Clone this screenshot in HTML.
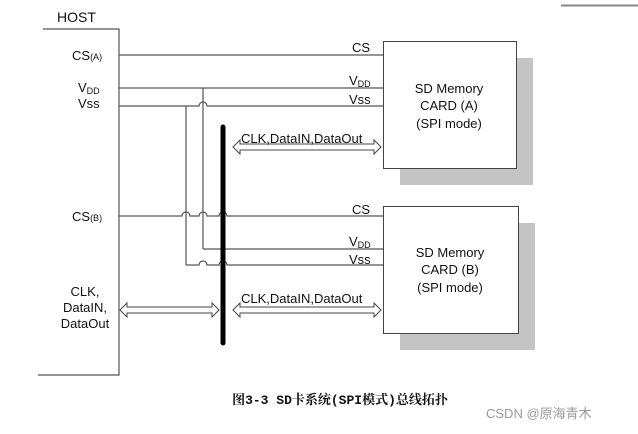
<!DOCTYPE html>
<html><head><meta charset="utf-8"><style>
html,body{margin:0;padding:0;background:#fff;}
svg{display:block;font-family:"Liberation Sans",Arial,sans-serif;}
</style></head><body>
<svg width="638" height="434" viewBox="0 0 638 434" xmlns="http://www.w3.org/2000/svg">
<g fill="none" stroke="#555" stroke-width="1.2">
<line x1="561" y1="5.5" x2="638" y2="5.5" stroke="#888" stroke-width="2"/>
<polyline points="43,29 119,29 119,375 38,375"/>
<!-- CS A -->
<line x1="119" y1="55" x2="383" y2="55"/>
<!-- VDD A -->
<line x1="119" y1="88" x2="383" y2="88"/>
<path d="M119,106 H199 a4,4 0 0 1 8,0 H383"/>
<!-- verticals -->
<line x1="186" y1="106" x2="186" y2="265"/>
<line x1="203" y1="88" x2="203" y2="249"/>
<!-- CS B -->
<path d="M119,216 H182 a4,4 0 0 1 8,0 H199 a4,4 0 0 1 8,0 H219 a4,4 0 0 1 8,0 H383"/>
<line x1="203" y1="249" x2="383" y2="249"/>
<path d="M186,265 H199 a4,4 0 0 1 8,0 H219 a4,4 0 0 1 8,0 H383"/>
</g>
<line x1="223" y1="127" x2="223" y2="343" stroke="#000" stroke-width="5" stroke-linecap="round"/>
<!-- arrows -->
<g fill="#fff" stroke="#444" stroke-width="1">
<path d="M233,147 L240,140 L240,144 L374,144 L374,140 L381,147 L374,154 L374,150 L240,150 L240,154 Z"/>
<path d="M120,310 L127,303 L127,307 L212,307 L212,303 L219,310 L212,317 L212,313 L127,313 L127,317 Z"/>
<path d="M233,310 L240,303 L240,307 L374,307 L374,303 L381,310 L374,317 L374,313 L240,313 L240,317 Z"/>
</g>
<!-- cards -->
<rect x="400" y="58" width="133" height="127" fill="#c4c4c4"/>
<rect x="383.5" y="41.5" width="133" height="127" fill="#fff" stroke="#444"/>
<rect x="400" y="223" width="135" height="127" fill="#c4c4c4"/>
<rect x="383.5" y="206.5" width="135" height="127" fill="#fff" stroke="#444"/>
<g fill="#111" font-size="13">
<text x="57" y="22" font-size="14">HOST</text>
<text x="72" y="60">CS<tspan font-size="9">(A)</tspan></text>
<text x="78" y="92">V<tspan font-size="9" dy="2">DD</tspan></text>
<text x="78" y="108">Vss</text>
<text x="72" y="221">CS<tspan font-size="9">(B)</tspan></text>
<text x="85" y="296" text-anchor="middle">CLK,</text>
<text x="85" y="312" text-anchor="middle">DataIN,</text>
<text x="85" y="328" text-anchor="middle">DataOut</text>
<text x="352" y="52">CS</text>
<text x="349" y="85">V<tspan font-size="9" dy="2">DD</tspan></text>
<text x="349" y="104">Vss</text>
<text x="352" y="214">CS</text>
<text x="349" y="246">V<tspan font-size="9" dy="2">DD</tspan></text>
<text x="349" y="264">Vss</text>
<text x="241" y="143">CLK,DataIN,DataOut</text>
<text x="241" y="303">CLK,DataIN,DataOut</text>
<g text-anchor="middle">
<text x="449" y="93">SD Memory</text>
<text x="449" y="110">CARD (A)</text>
<text x="449" y="128">(SPI mode)</text>
<text x="450" y="257">SD Memory</text>
<text x="450" y="274">CARD (B)</text>
<text x="450" y="292">(SPI mode)</text>
</g>
<text x="340" y="404" text-anchor="middle" font-size="13" font-weight="bold" font-family="'Liberation Mono','Noto Serif CJK SC',serif">图3-3 SD卡系统(SPI模式)总线拓扑</text>
<text x="486" y="418" font-size="13" fill="#999" font-family="'Liberation Sans','Noto Sans CJK SC',sans-serif">CSDN @原海青木</text>
</g>
</svg>
</body></html>
